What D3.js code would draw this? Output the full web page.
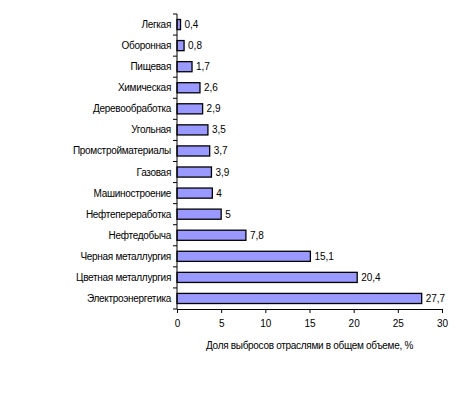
<!DOCTYPE html>
<head>
    <script src="https://d3js.org/d3.v7.min.js"></script>
    <style>
        body { margin: 0; background: #fff; }
        text { font-family: "Liberation Sans Narrow", "Liberation Sans", Arial, sans-serif; font-size: 10px; fill: #000; }
    </style>
</head>
<body>
    <script>
        // data
        const industries = ["Легкая", "Оборонная", "Пищевая", "Химическая", "Деревообработка",
            "Угольная", "Промстройматериалы", "Газовая", "Машиностроение", "Нефтепереработка",
            "Нефтедобыча", "Черная металлургия", "Цветная металлургия", "Электроэнергетика"];
        const shares = [0.4, 0.8, 1.7, 2.6, 2.9, 3.5, 3.7, 3.9, 4, 5, 7.8, 15.1, 20.4, 27.7];
        const xTicks = [0, 5, 10, 15, 20, 25, 30];
        const xTitle = "Доля выбросов отраслями в общем объеме, %";

        const data = industries.map((name, i) => ({ name: name, value: shares[i] }));

        const svg = d3.select("body")
            .append("svg")
            .attr("width", 469)
            .attr("height", 393);
        const margin = { top: 14, left: 177, right: 27, bottom: 84 };
        const width = 469 - margin.left - margin.right;
        const height = 393 - margin.top - margin.bottom;
        const chart = svg.append("g")
            .attr("transform", `translate(${margin.left},${margin.top})`);

        const fmt = v => String(v).replace(".", ",");

        // scales
        const xScale = d3.scaleLinear().domain([0, 30]).range([0, width]);
        const yScale = d3.scaleBand().domain(industries).range([0, height]).paddingInner(0.52).paddingOuter(0.26);

        // bars
        chart.selectAll("rect.bar")
            .data(data)
            .join("rect")
            .attr("class", "bar")
            .attr("x", 0)
            .attr("y", d => yScale(d.name))
            .attr("width", d => xScale(d.value))
            .attr("height", yScale.bandwidth())
            .attr("fill", "#9999ff")
            .attr("stroke", "#000")
            .attr("stroke-width", 1.3);

        // value labels
        chart.selectAll("text.val")
            .data(data)
            .join("text")
            .attr("class", "val")
            .attr("x", d => xScale(d.value) + 4)
            .attr("y", d => yScale(d.name) + yScale.bandwidth() / 2)
            .attr("dy", "0.35em")
            .text(d => fmt(d.value));

        // y axis: ticks at category boundaries
        const step = height / industries.length;
        chart.append("line")
            .attr("x1", 0).attr("x2", 0)
            .attr("y1", 0).attr("y2", height)
            .attr("stroke", "#000");
        chart.selectAll("line.ytick")
            .data(d3.range(industries.length + 1))
            .join("line")
            .attr("class", "ytick")
            .attr("x1", -4).attr("x2", 0)
            .attr("y1", i => i * step).attr("y2", i => i * step)
            .attr("stroke", "#000");
        chart.selectAll("text.cat")
            .data(industries)
            .join("text")
            .attr("class", "cat")
            .attr("x", -6)
            .attr("y", d => yScale(d) + yScale.bandwidth() / 2)
            .attr("dy", "0.35em")
            .attr("text-anchor", "end")
            .attr("letter-spacing", "-0.3px")
            .text(d => d);

        // x axis
        const xAxis = chart.append("g")
            .attr("transform", `translate(0,${height})`)
            .call(d3.axisBottom(xScale).tickValues(xTicks).tickSize(4).tickSizeOuter(0).tickFormat(d => d));
        xAxis.select(".domain").attr("stroke", "#000");
        xAxis.selectAll("text").style("font-size", "10px").attr("dy", "1.1em");

        chart.append("text")
            .attr("x", width / 2)
            .attr("y", height + 40)
            .attr("text-anchor", "middle")
            .attr("letter-spacing", "-0.3px")
            .text(xTitle);
    </script>
</body>
